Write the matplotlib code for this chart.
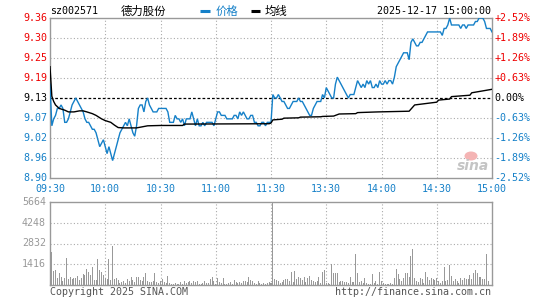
import matplotlib
matplotlib.use('Agg')
import matplotlib.pyplot as plt
from matplotlib.lines import Line2D
from matplotlib.patches import Ellipse
import matplotlib.transforms as mtrans

# ---------------- data ----------------
code = "sz002571"
name = "德力股份"
timestamp = "2025-12-17 15:00:00"
prev_close = 9.13

price_am = [  # 09:30 .. 11:30 (121 points)
    9.17, 9.05, 9.07, 9.08, 9.10, 9.10, 9.11, 9.10, 9.06, 9.06,
    9.07, 9.09, 9.11, 9.12, 9.13, 9.12, 9.11, 9.10, 9.09, 9.07,
    9.06, 9.06, 9.05, 9.04, 9.04, 9.03, 9.01, 8.99, 9.00, 9.01,
    8.99, 8.97, 8.99, 8.97, 8.95, 8.97, 8.99, 9.01, 9.03, 9.04,
    9.05, 9.06, 9.05, 9.07, 9.05, 9.03, 9.02, 9.05, 9.10, 9.11,
    9.11, 9.09, 9.12, 9.13, 9.11, 9.10, 9.09, 9.09, 9.09, 9.10,
    9.10, 9.10, 9.10, 9.10, 9.09, 9.06, 9.06, 9.06, 9.08, 9.07,
    9.07, 9.06, 9.07, 9.05, 9.07, 9.07, 9.07, 9.09, 9.07, 9.05,
    9.07, 9.05, 9.05, 9.06, 9.05, 9.06, 9.06, 9.06, 9.06, 9.05,
    9.07, 9.09, 9.09, 9.08, 9.08, 9.08, 9.07, 9.07, 9.07, 9.07,
    9.08, 9.08, 9.07, 9.09, 9.08, 9.09, 9.08, 9.07, 9.07, 9.08,
    9.08, 9.06, 9.06, 9.05, 9.05, 9.06, 9.06, 9.05, 9.06, 9.06,
    9.06,
]
price_pm = [  # 13:01 .. 15:00 (120 points)
    9.14, 9.13, 9.13, 9.14, 9.13, 9.12, 9.12, 9.11, 9.10, 9.10,
    9.11, 9.12, 9.12, 9.12, 9.13, 9.12, 9.12, 9.11, 9.10, 9.09,
    9.08, 9.08, 9.10, 9.11, 9.12, 9.12, 9.12, 9.14, 9.13, 9.16,
    9.15, 9.14, 9.13, 9.13, 9.17, 9.19, 9.18, 9.17, 9.16, 9.15,
    9.14, 9.13, 9.14, 9.14, 9.14, 9.16, 9.18, 9.17, 9.16, 9.17,
    9.16, 9.18, 9.17, 9.18, 9.16, 9.16, 9.17, 9.16, 9.18, 9.17,
    9.17, 9.18, 9.17, 9.18, 9.18, 9.17, 9.19, 9.22, 9.23, 9.24,
    9.25, 9.26, 9.26, 9.26, 9.24, 9.29, 9.30, 9.29, 9.28, 9.28,
    9.29, 9.29, 9.30, 9.31, 9.32, 9.32, 9.32, 9.32, 9.32, 9.32,
    9.32, 9.32, 9.31, 9.33, 9.33, 9.34, 9.36, 9.34, 9.34, 9.34,
    9.34, 9.34, 9.33, 9.34, 9.34, 9.33, 9.34, 9.34, 9.34, 9.34,
    9.35, 9.35, 9.36, 9.36, 9.36, 9.35, 9.33, 9.33, 9.33, 9.32,
]
price = price_am + price_pm

avg_minute = [0, 1, 2, 3, 5, 8, 10, 13, 16, 18, 20, 23, 25, 28, 30, 33, 35, 37, 40, 47,
              50, 53, 60, 72, 73, 119, 120, 121, 126, 127, 135, 136, 147, 148, 154, 155, 157, 166, 167, 178,
              195, 198, 210, 211, 217, 218, 228, 229, 240]
avg_price = [9.22, 9.135, 9.12, 9.11, 9.10, 9.095, 9.09, 9.09, 9.093, 9.093,
             9.09, 9.085, 9.08, 9.07, 9.065, 9.06, 9.052, 9.045, 9.044, 9.044,
             9.047, 9.05, 9.051, 9.051, 9.055, 9.056, 9.058, 9.067, 9.069, 9.072,
             9.073, 9.075, 9.076, 9.077, 9.078, 9.08, 9.084, 9.085, 9.088, 9.09,
             9.092, 9.11, 9.118, 9.124, 9.127, 9.134, 9.138, 9.145, 9.155]

volume = [
    840, 2270, 980, 1020, 450, 800, 520, 300, 500, 1816,
    390, 520, 400, 450, 450, 610, 340, 450, 750, 700,
    1070, 880, 680, 1200, 340, 340, 1770, 1020, 900, 680,
    450, 390, 1770, 340, 2656, 400, 450, 340, 160, 230,
    300, 160, 380, 300, 520, 340, 230, 560, 560, 340,
    300, 520, 790, 300, 230, 230, 300, 790, 230, 160,
    300, 390, 230, 160, 610, 110, 80, 60, 110, 60,
    90, 180, 100, 250, 160, 220, 250, 130, 270, 200,
    270, 90, 60, 110, 250, 160, 110, 400, 560, 300,
    90, 500, 200, 110, 450, 90, 60, 110, 180, 90,
    360, 200, 110, 220, 160, 250, 300, 200, 560, 340,
    250, 110, 90, 250, 130, 60, 160, 90, 110, 200,
    150,
    5664, 390, 340, 290, 110, 230, 340, 390, 390,
    290, 910, 230, 976, 390, 520, 450, 340, 520, 230,
    450, 610, 340, 290, 230, 290, 560, 110, 900, 1020,
    110, 160, 70, 1430, 790, 840, 840, 230, 290, 290,
    230, 230, 160, 520, 230, 230, 2110, 840, 230, 290,
    160, 450, 160, 70, 70, 750, 110, 290, 70, 900,
    290, 160, 70, 70, 70, 110, 70, 450, 1090, 750,
    390, 290, 450, 790, 840, 520, 1975, 2450, 450, 290,
    230, 450, 390, 160, 900, 560, 340, 450, 390, 340,
    450, 290, 110, 290, 1200, 290, 340, 1360, 610, 290,
    390, 290, 110, 450, 340, 450, 390, 390, 680, 390,
    790, 1020, 840, 520, 520, 390, 390, 2110, 290, 0,
    0,
]

x_tick_pos = [0, 30, 60, 90, 120, 150, 180, 210, 240]
x_tick_labels = ['09:30', '10:00', '10:30', '11:00', '11:30', '13:30', '14:00', '14:30', '15:00']
pct_levels = [-2.52, -1.89, -1.26, -0.63, 0.0, 0.63, 1.26, 1.89, 2.52]
price_labels = ['8.90', '8.96', '9.02', '9.07', '9.13', '9.19', '9.25', '9.30', '9.36']
pct_labels = ['-2.52%', '-1.89%', '-1.26%', '-0.63%', '0.00%', '+0.63%', '+1.26%', '+1.89%', '+2.52%']
vol_ticks = [1416, 2832, 4248, 5664]
vol_labels = ['1416', '2832', '4248', '5664']
vol_max = 5664

# ---------------- style ----------------
W, H = 545, 300
BLUE = '#1580c8'
RED = '#ee0000'
GRAY = '#999999'
GRID = '#aaaaaa'
MONO = 'DejaVu Sans Mono'
CJK = ['Noto Sans CJK SC', 'DejaVu Sans']
FS = 7.2

fig = plt.figure(figsize=(W / 100, H / 100), dpi=100)
fig.patch.set_facecolor('white')

def fx(px):
    return px / W

def fy(py):
    return 1 - py / H

L, R = 50, 492
ax = fig.add_axes([fx(L), fy(178), fx(R) - fx(L), fy(18) - fy(178)])
axv = fig.add_axes([fx(L), fy(285), fx(R) - fx(L), fy(202) - fy(285)])

ymin = prev_close * (1 + pct_levels[0] / 100)
ymax = prev_close * (1 + pct_levels[-1] / 100)
levels = [prev_close * (1 + p / 100) for p in pct_levels]

for a in (ax, axv):
    a.set_xlim(0, 240)
    a.set_xticks([])
    a.set_yticks([])
    for s in a.spines.values():
        s.set_color(GRAY)
        s.set_linewidth(1.0)
    for xp in x_tick_pos[1:-1]:
        a.axvline(xp, color=GRID, lw=0.8, ls=(0, (1, 2)), zorder=1)

ax.set_ylim(ymin, ymax)
for lv, p in zip(levels[1:-1], pct_levels[1:-1]):
    if p == 0:
        ax.axhline(lv, color='black', lw=0.9, ls=(0, (2.2, 1.6)), zorder=2)
    else:
        ax.axhline(lv, color=GRID, lw=0.8, ls=(0, (1, 2)), zorder=1)

minutes = list(range(len(price)))
ax.plot(minutes, price, color=BLUE, lw=1.0, zorder=3, solid_joinstyle='miter')
ax.plot(avg_minute, avg_price, color='black', lw=1.0, zorder=4)

ytr = ax.get_yaxis_transform()
for lv, p, lab, plab in zip(levels, pct_levels, price_labels, pct_labels):
    c = RED if p > 0 else ('black' if p == 0 else BLUE)
    ax.text(-0.007, lv, lab, transform=ytr, ha='right', va='center', color=c,
            fontsize=FS, family=MONO, clip_on=False)
    ax.text(1.006, lv, plab, transform=ytr, ha='left', va='center', color=c,
            fontsize=FS, family=MONO, clip_on=False)

xtr = ax.get_xaxis_transform()
for xp, lab in zip(x_tick_pos, x_tick_labels):
    ax.text(xp, -0.066, lab, transform=xtr, ha='center', va='center', color=BLUE,
            fontsize=FS, family=MONO, clip_on=False)

# volume
axv.set_ylim(0, vol_max)
for vt in vol_ticks[:-1]:
    axv.axhline(vt, color=GRID, lw=0.8, ls=(0, (1, 2)), zorder=1)
axv.bar(minutes, volume, width=0.55, color=GRAY, linewidth=0, zorder=3, align='center')
vtr = axv.get_yaxis_transform()
for vt, lab in zip(vol_ticks, vol_labels):
    axv.text(-0.009, vt, lab, transform=vtr, ha='right', va='center', color=GRAY,
             fontsize=FS, family=MONO, clip_on=False)

# header
fig.text(fx(50), fy(11), code, ha='left', va='center', fontsize=FS, family=MONO, color='black')
fig.text(fx(121), fy(11), name, ha='left', va='center', fontsize=8.2, family=CJK, color='black')
fig.add_artist(Line2D([fx(200), fx(210)], [fy(11), fy(11)], color=BLUE, lw=2.2,
                      transform=fig.transFigure, solid_capstyle='butt'))
fig.text(fx(216), fy(11), '价格', ha='left', va='center', fontsize=8.2, family=CJK, color=BLUE)
fig.add_artist(Line2D([fx(251), fx(260)], [fy(11), fy(11)], color='black', lw=2.2,
                      transform=fig.transFigure, solid_capstyle='butt'))
fig.text(fx(265), fy(11), '均线', ha='left', va='center', fontsize=8.2, family=CJK, color='black')
fig.text(fx(491), fy(11), timestamp, ha='right', va='center', fontsize=FS, family=MONO, color='black')

# footer
fig.text(fx(50), fy(292), 'Copyright 2025 SINA.COM', ha='left', va='center', fontsize=FS,
         family=MONO, color='#555555')
fig.text(fx(491), fy(292), 'http://finance.sina.com.cn', ha='right', va='center', fontsize=FS,
         family=MONO, color='#555555')

# watermark
fig.add_artist(Ellipse((fx(471), fy(156)), width=13 / W, height=9 / H, transform=fig.transFigure,
                       facecolor='#f4b4b4', edgecolor='none', zorder=5))
fig.text(fx(473), fy(166), 'sina', ha='center', va='center', fontsize=10, style='italic',
         weight='bold', color='#c4c4c4', family='DejaVu Sans', zorder=5)

fig.savefig('out.png', dpi=100)
